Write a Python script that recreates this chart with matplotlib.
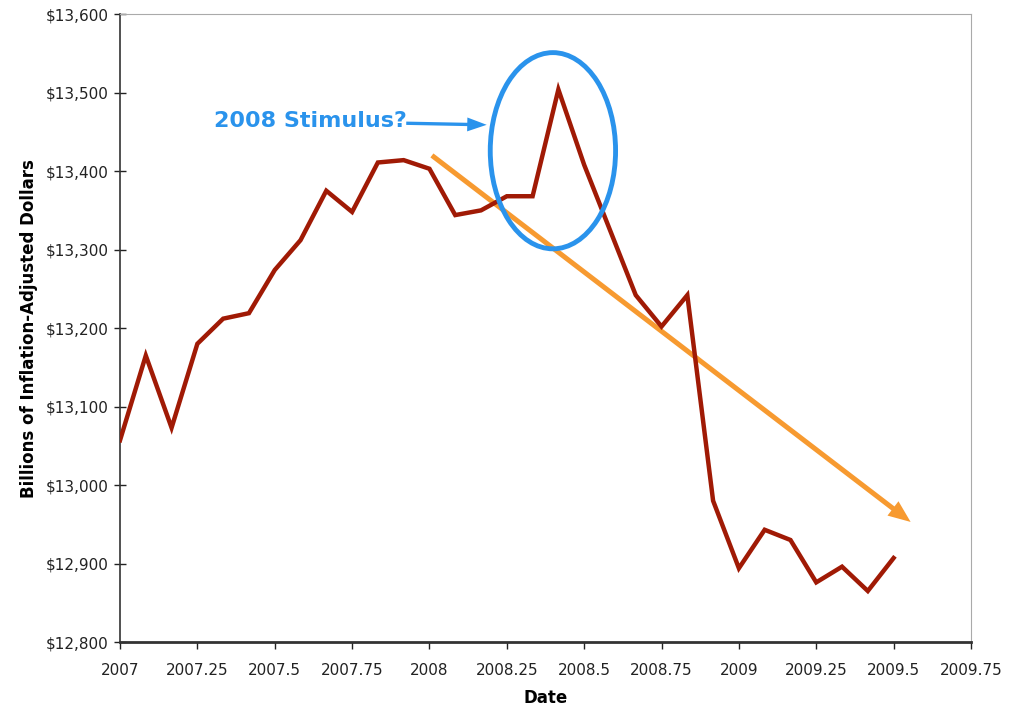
import matplotlib
matplotlib.use("Agg")

import matplotlib.pyplot as plt
from matplotlib.patches import Ellipse
from matplotlib.ticker import FuncFormatter
import numpy as np

# monthly dates, Jan 2007 .. Jul 2009
dates = 2007 + np.arange(31) / 12
gdp = [13057, 13165, 13073, 13180, 13212, 13219, 13274, 13312, 13375, 13348,
       13411, 13414, 13403, 13344, 13350, 13368, 13368, 13504, 13408, 13325,
       13242, 13202, 13242, 12980, 12894, 12943, 12930, 12876, 12896, 12865,
       12907]

x_ticks = [2007, 2007.25, 2007.5, 2007.75, 2008, 2008.25, 2008.5, 2008.75,
           2009, 2009.25, 2009.5, 2009.75]
x_tick_labels = ["2007", "2007.25", "2007.5", "2007.75", "2008", "2008.25",
                 "2008.5", "2008.75", "2009", "2009.25", "2009.5", "2009.75"]
y_ticks = [12800, 12900, 13000, 13100, 13200, 13300, 13400, 13500, 13600]

line_color = "#a01a05"
blue = "#2a93ec"
orange = "#f79a30"

fig = plt.figure(figsize=(10.11, 7.08), dpi=100)
ax = fig.add_axes([0.1187, 0.0932, 0.8417, 0.8868])

ax.plot(dates, gdp, color=line_color, linewidth=3.2, solid_joinstyle="miter", zorder=3)

ax.set_xlim(2007, 2009.75)
ax.set_ylim(12800, 13600)
ax.set_xticks(x_ticks)
ax.set_xticklabels(x_tick_labels)
ax.set_yticks(y_ticks)
ax.yaxis.set_major_formatter(FuncFormatter(lambda v, p: "${:,.0f}".format(v)))

ax.tick_params(axis="x", direction="out", length=5, width=1, labelsize=11, pad=10,
               colors="#222222")
ax.tick_params(axis="y", direction="inout", length=8, width=1, labelsize=11, pad=4,
               colors="#222222")

for side in ("left", "bottom"):
    ax.spines[side].set_color("#333333")
ax.spines["left"].set_linewidth(1.2)
ax.spines["bottom"].set_linewidth(2)
for side in ("top", "right"):
    ax.spines[side].set_color("#aaaaaa")
    ax.spines[side].set_linewidth(0.8)

ax.set_xlabel("Date", fontsize=12, fontweight="bold", labelpad=8)
ax.set_ylabel("Billions of Inflation-Adjusted Dollars", fontsize=12,
              fontweight="bold", labelpad=6)

# annotations
ax.add_patch(Ellipse((2008.399, 13426), 0.405, 250, fill=False,
                     edgecolor=blue, linewidth=3.5, zorder=4))
ax.text(2007.304, 13464, "2008 Stimulus?", color=blue, fontsize=16,
        fontweight="bold", va="center", ha="left")
ax.annotate("", xy=(2008.185, 13459), xytext=(2007.925, 13461),
            arrowprops=dict(arrowstyle="simple,head_length=0.7,head_width=0.5,tail_width=0.12",
                            mutation_scale=20, color=blue, lw=0,
                            shrinkA=0, shrinkB=0))
ax.annotate("", xy=(2009.555, 12953), xytext=(2008.008, 13420),
            arrowprops=dict(arrowstyle="simple,head_length=0.8,head_width=0.65,tail_width=0.18",
                            mutation_scale=20, color=orange, lw=0,
                            shrinkA=0, shrinkB=0), zorder=2)

fig.savefig("out.png", dpi=100)
plt.close(fig)
